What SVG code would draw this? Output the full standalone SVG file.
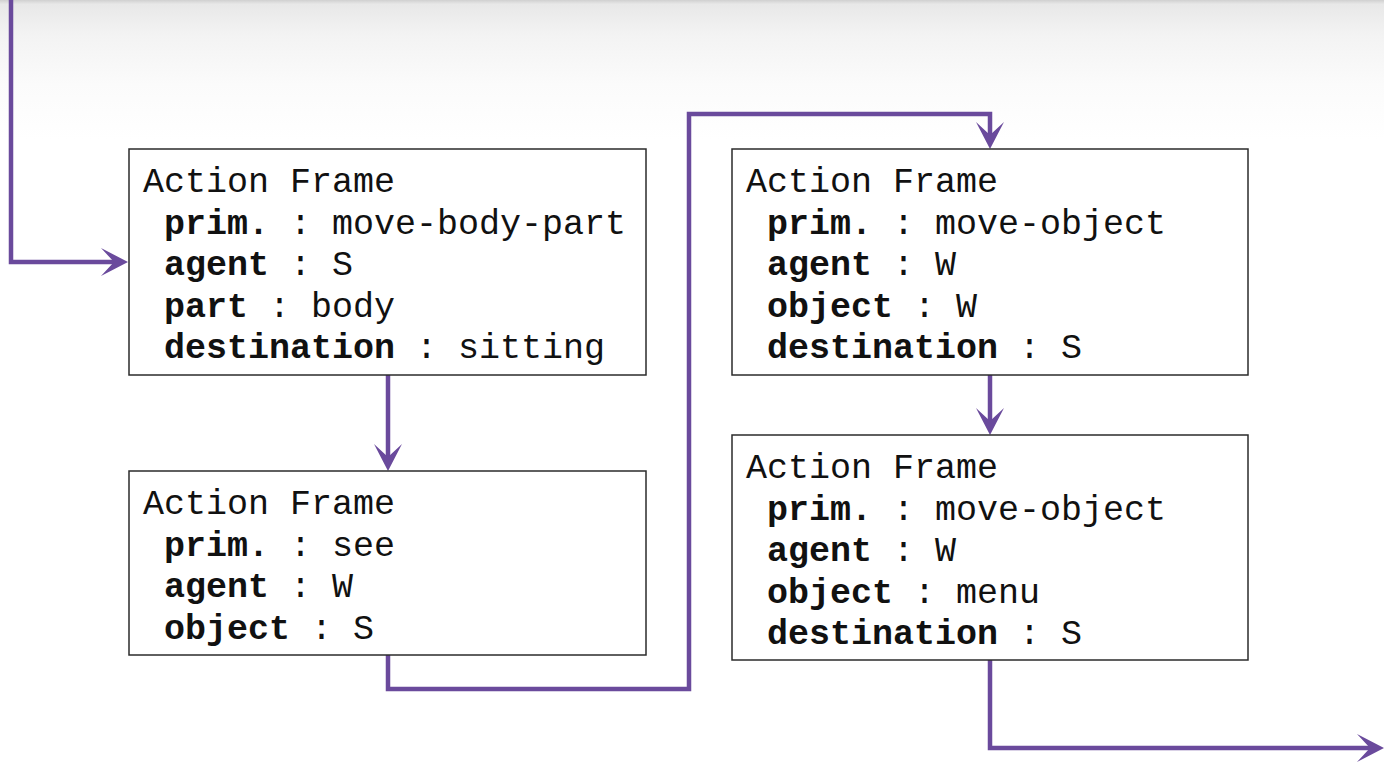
<svg xmlns="http://www.w3.org/2000/svg" width="1384" height="764" viewBox="0 0 1384 764">
<style>
.box{fill:#fff;stroke:#2b2b2b;stroke-width:1.5}
.t{font-family:"Liberation Mono","Courier New",monospace;font-size:35px;fill:#111}
.b{font-weight:bold}
.c{fill:none;stroke:#6a4a9c;stroke-width:4.5;stroke-linejoin:miter}
</style>
<defs>
<linearGradient id="shade" x1="0" y1="0" x2="0" y2="1">
<stop offset="0" stop-color="#d0d0d0"/>
<stop offset="0.03" stop-color="#e8e8e8"/>
<stop offset="0.25" stop-color="#f3f3f3"/>
<stop offset="0.6" stop-color="#fbfbfb"/>
<stop offset="1" stop-color="#ffffff"/>
</linearGradient>
<marker id="ah" markerUnits="userSpaceOnUse" markerWidth="40" markerHeight="40" viewBox="-30 -15 40 30" refX="-8" refY="0" orient="auto" overflow="visible">
<path d="M0,0 L-27,-14 L-14,0 L-27,14 Z" fill="#6a4a9c"/>
</marker>
</defs>
<rect width="1384" height="764" fill="#fff"/>
<rect width="1384" height="140" fill="url(#shade)"/>

<g id="connectors">
<path class="c" d="M11,0 V262 H120" marker-end="url(#ah)"/>
<path class="c" d="M388,375 V463" marker-end="url(#ah)"/>
<path class="c" d="M388,655 V689 H689 V114 H990 V141" marker-end="url(#ah)"/>
<path class="c" d="M990,375 V427" marker-end="url(#ah)"/>
<path class="c" d="M990,660 V748 H1376" marker-end="url(#ah)"/>
</g>

<g id="frame1">
<rect class="box" x="129" y="149" width="517" height="226"/>
<text class="t" x="143" y="192">Action Frame</text>
<text class="t" x="164" y="233.5"><tspan class="b">prim.</tspan> : move-body-part</text>
<text class="t" x="164" y="275"><tspan class="b">agent</tspan> : S</text>
<text class="t" x="164" y="316.5"><tspan class="b">part</tspan> : body</text>
<text class="t" x="164" y="358"><tspan class="b">destination</tspan> : sitting</text>
</g>

<g id="frame2">
<rect class="box" x="129" y="471" width="517" height="184"/>
<text class="t" x="143" y="514">Action Frame</text>
<text class="t" x="164" y="555.5"><tspan class="b">prim.</tspan> : see</text>
<text class="t" x="164" y="597"><tspan class="b">agent</tspan> : W</text>
<text class="t" x="164" y="638.5"><tspan class="b">object</tspan> : S</text>
</g>

<g id="frame3">
<rect class="box" x="732" y="149" width="516" height="226"/>
<text class="t" x="746" y="192">Action Frame</text>
<text class="t" x="767" y="233.5"><tspan class="b">prim.</tspan> : move-object</text>
<text class="t" x="767" y="275"><tspan class="b">agent</tspan> : W</text>
<text class="t" x="767" y="316.5"><tspan class="b">object</tspan> : W</text>
<text class="t" x="767" y="358"><tspan class="b">destination</tspan> : S</text>
</g>

<g id="frame4">
<rect class="box" x="732" y="435" width="516" height="225"/>
<text class="t" x="746" y="478">Action Frame</text>
<text class="t" x="767" y="519.5"><tspan class="b">prim.</tspan> : move-object</text>
<text class="t" x="767" y="561"><tspan class="b">agent</tspan> : W</text>
<text class="t" x="767" y="602.5"><tspan class="b">object</tspan> : menu</text>
<text class="t" x="767" y="644"><tspan class="b">destination</tspan> : S</text>
</g>
</svg>
